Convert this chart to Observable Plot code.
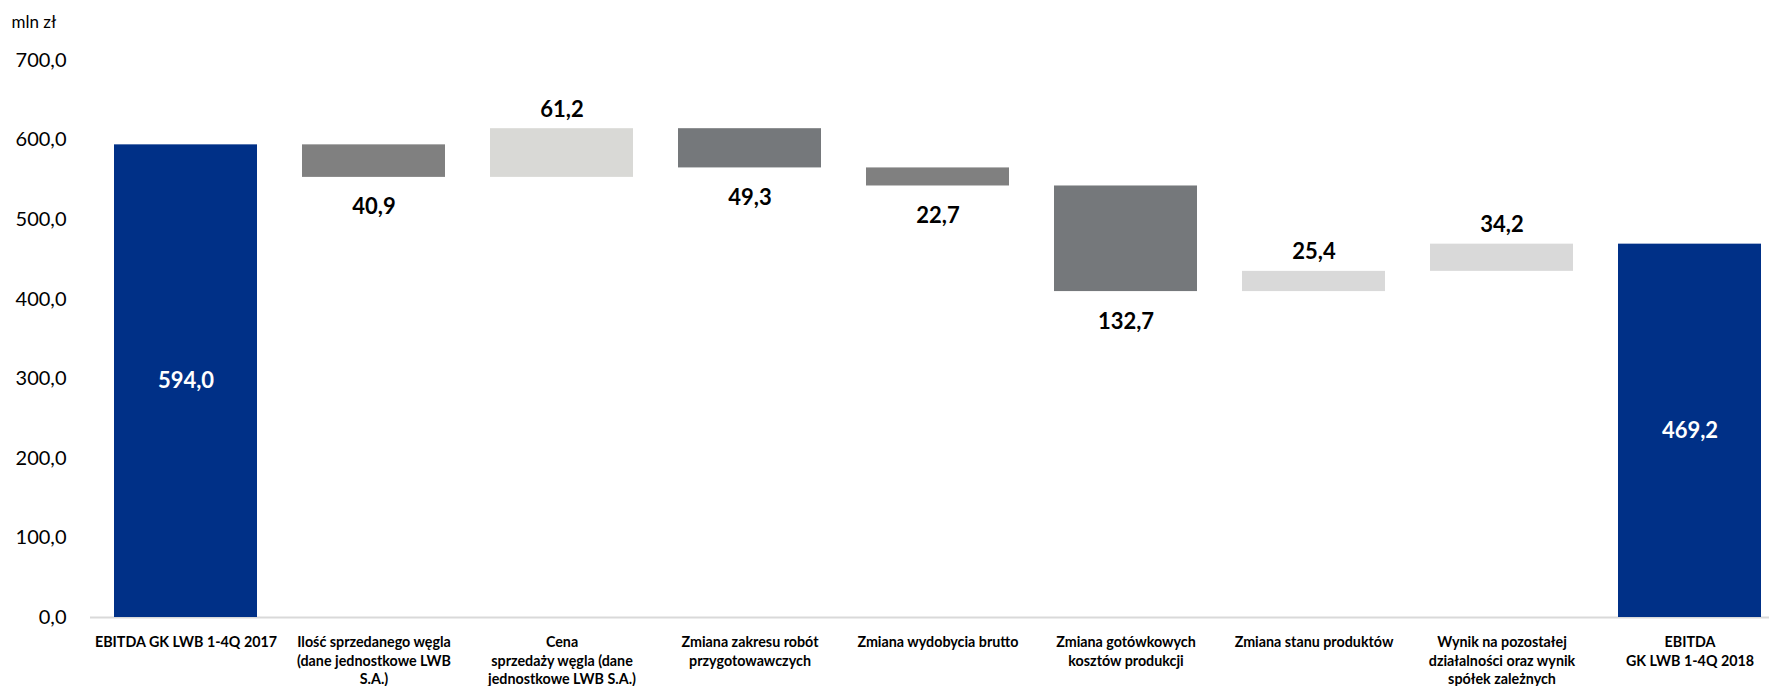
<!DOCTYPE html>
<html>
<head>
<meta charset="utf-8">
<script src="https://cdn.jsdelivr.net/npm/d3@7"></script>
<script src="https://cdn.jsdelivr.net/npm/@observablehq/plot@0.6"></script>
<style>
  html, body { margin: 0; padding: 0; background: #fff; overflow: hidden; }
  #chart svg { display: block; }
</style>
</head>
<body>
<div id="chart"></div>
<script>
// ---------- data ----------
const categories = [
  "EBITDA GK LWB 1-4Q 2017",
  "Ilość sprzedanego węgla\n(dane jednostkowe LWB\nS.A.)",
  "Cena\nsprzedaży węgla (dane\njednostkowe LWB S.A.)",
  "Zmiana zakresu robót\nprzygotowawczych",
  "Zmiana wydobycia brutto",
  "Zmiana gotówkowych\nkosztów produkcji",
  "Zmiana stanu produktów",
  "Wynik na pozostałej\ndziałalności oraz wynik\nspółek zależnych",
  "EBITDA\nGK LWB 1-4Q 2018"
];
const changes = [594.0, -40.9, 61.2, -49.3, -22.7, -132.7, 25.4, 34.2, 469.2];
const isTotal = [true, false, false, false, false, false, false, false, true];
const yTicks = [0, 100, 200, 300, 400, 500, 600, 700];
const unitLabel = "mln zł";

// ---------- styles ----------
const barFill = ["#003087", "#808080", "#d9d9d6", "#75787b", "#808080", "#75787b", "#d9d9d9", "#d9d9d9", "#003087"];
const fmt = v => Math.abs(v).toFixed(1).replace(".", ",");

// ---------- waterfall table ----------
let run = 0;
const rows = categories.map((c, i) => {
  const v = changes[i];
  let y1, y2;
  if (isTotal[i]) { y1 = 0; y2 = v; run = v; }
  else { y1 = run; y2 = run + v; run = y2; }
  return { category: c, value: v, y1, y2, total: isTotal[i] };
});

const chart = Plot.plot({
  width: 1769,
  height: 686,
  marginTop: 60,
  marginBottom: 69,
  marginLeft: 90,
  marginRight: 0,
  style: { fontFamily: "Lato, 'Open Sans', sans-serif", background: "#fff", color: "#000" },
  x: { domain: categories, range: [90.4, 1784.6], paddingInner: 0.24, paddingOuter: 0.12, label: null },
  y: { domain: [0, 700], label: null },
  color: { type: "ordinal", domain: categories, range: barFill },
  marks: [
    Plot.ruleY([0], { stroke: "#d9d9d9", strokeWidth: 2 }),
    Plot.barY(rows, { x: "category", y1: "y1", y2: "y2", fill: "category" }),
    Plot.axisY({ ticks: yTicks, tickSize: 0, tickPadding: 24, tickFormat: d => d.toFixed(1).replace(".", ","), fontSize: 20, label: null }),
    Plot.axisX({ tickSize: 0, tickPadding: 16, fontSize: 14.3, fontWeight: "bold", lineHeight: 1.31, label: null }),
    // totals: white labels centered in bar
    Plot.text(rows.filter(d => d.total), { x: "category", y: d => d.y2 / 2, text: d => fmt(d.value), fill: "#fff", fontSize: 22, fontWeight: "bold" }),
    // increases: above bar
    Plot.text(rows.filter(d => !d.total && d.value > 0), { x: "category", y: "y2", text: d => fmt(d.value), dy: -19, fill: "#000", fontSize: 22, fontWeight: "bold" }),
    // decreases: below bar
    Plot.text(rows.filter(d => !d.total && d.value < 0), { x: "category", y: "y2", text: d => fmt(d.value), dy: 30, fill: "#000", fontSize: 22, fontWeight: "bold" }),
    Plot.text([unitLabel], { frameAnchor: "top-left", text: d => d, dx: -79, dy: -45, fontSize: 17, fill: "#000" })
  ]
});
document.getElementById("chart").appendChild(chart);
</script>
</body>
</html>
